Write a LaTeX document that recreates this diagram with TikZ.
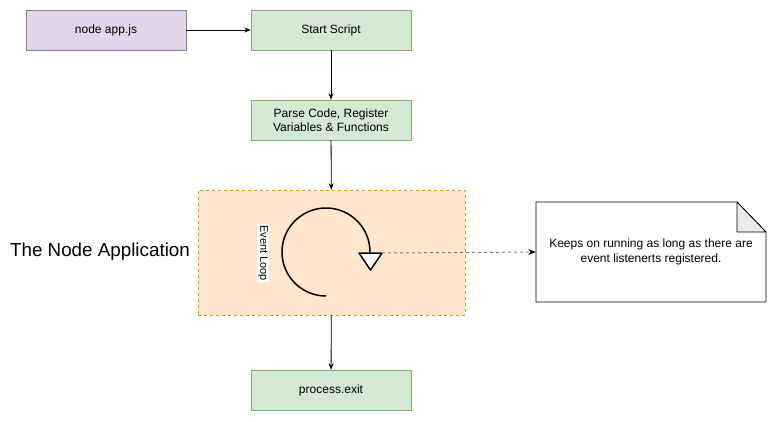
\documentclass[tikz,border=0pt]{standalone}
\usepackage{fontspec}
\setmainfont{Liberation Sans}
\usetikzlibrary{arrows.meta}
\definecolor{purplefill}{HTML}{E1D5E7}
\definecolor{purpleline}{HTML}{9673A6}
\definecolor{greenfill}{HTML}{D5E8D4}
\definecolor{greenline}{HTML}{82B366}
\definecolor{orangefill}{HTML}{FFE6CC}
\definecolor{orangeline}{HTML}{D79B00}
\definecolor{foldgray}{HTML}{EBEBEB}
\begin{document}
\begin{tikzpicture}[x=1pt, y=-1pt, line join=round, font=\fontsize{12}{14}\selectfont, >=Stealth]
	\tikzset{stepbox/.style={draw=greenline, fill=greenfill, minimum width=160pt, minimum height=40pt, inner sep=0pt, align=center},
		startbox/.style={stepbox, draw=purpleline, fill=purplefill},
		flow/.style={->, line width=0.8pt}}
	\useasboundingbox (0,0) rectangle (777,421);
	% container
	\node[draw=orangeline, fill=orangefill, dashed, minimum width=267pt, minimum height=125pt] (app) at (331.5,252.5) {};
	\node[font=\fontsize{18.8}{21}\selectfont] (title) at (100,252) {The Node Application};
	% steps
	\node[startbox] (cmd) at (106,30) {node app.js};
	\node[stepbox] (start) at (331,30) {Start Script};
	\node[stepbox] (parse) at (331,120) {Parse Code, Register\\Variables \& Functions};
	\node[stepbox] (exit) at (331,390) {process.exit};
	\draw[flow] (cmd) -- (start);
	\draw[flow] (start) -- (parse);
	\draw[flow] (parse) -- (app);
	\draw[flow] (app) -- (exit);
	% event loop
	\draw[line width=1.5pt] (326,296) arc[start angle=90, end angle=360, radius=44];
	\draw[line width=1.5pt, fill=white] (359,253) -- (382,253) -- (370.5,270) -- cycle;
	\coordinate (loopend) at (382,253);
	\node[rotate=-90, fill=white, inner sep=1pt, font=\fontsize{11}{13}\selectfont] (looplabel) at (263,253) {Event Loop};
	% note
	\draw[line width=0.8pt, fill=white] (536,202) -- (737,202) -- (766,232) -- (766,302) -- (536,302) -- cycle;
	\draw[line width=0.8pt, fill=foldgray] (737,202) -- (737,232) -- (766,232) -- cycle;
	\node[minimum width=230pt, minimum height=100pt, align=center, font=\fontsize{12}{15}\selectfont] (note) at (651,252) {Keeps on running as long as there are\\event listenerts registered.};
	\draw[gray, dash pattern=on 3pt off 3pt, line width=1pt, -{Stealth[black]}] (loopend) -- (note.west);
\end{tikzpicture}
\end{document}
